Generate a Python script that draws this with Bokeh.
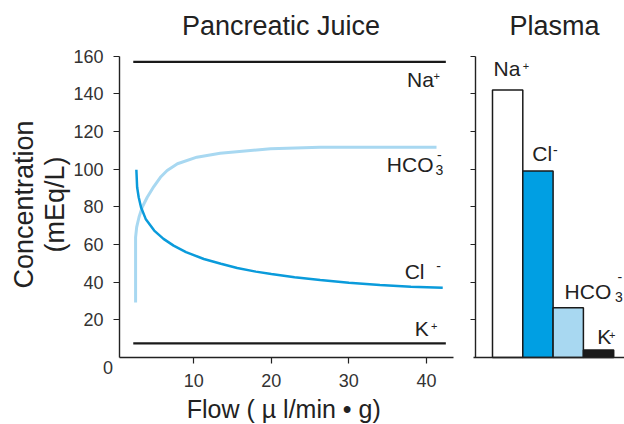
from bokeh.plotting import figure
from bokeh.models import Label, FixedTicker, Range1d, LinearAxis, CustomJSTickFormatter
from bokeh.layouts import row
from bokeh.embed import file_html
from bokeh.resources import INLINE

# ---------------- data ----------------
flow_cl = [2.6, 2.7, 2.9, 3.2, 3.8, 4.9, 6.1, 7.4, 9.0, 11.3, 13.5, 15.6, 18.0, 20.0, 23.0, 26.3, 30.0, 34.0, 38.0, 42.1]
cl_juice = [99.7, 90.4, 85.1, 79.8, 73.6, 67.4, 63.0, 59.4, 56.0, 52.3, 49.8, 47.5, 45.6, 44.3, 42.6, 41.1, 39.7, 38.5, 37.6, 37.0]

flow_hco3 = [2.5, 2.5, 2.5, 2.64, 2.94, 3.35, 4.0, 4.85, 5.7, 6.57, 7.9, 10.4, 13.4, 19.9, 26.3, 33.0, 41.3]
hco3_juice = [29.2, 49.8, 63.8, 69.2, 74.5, 79.8, 85.1, 90.8, 95.7, 99.3, 102.9, 106.4, 108.5, 110.8, 111.7, 111.7, 111.7]

flow_flat = [2.2, 42.5]
na_juice = [157, 157]
k_juice = [7.5, 7.5]

plasma_ions = ["Na+", "Cl-", "HCO3-", "K+"]
plasma_pos = [1, 2, 3, 4]
plasma_values = [142, 99, 26.4, 4]
plasma_fill = ["#ffffff", "#009fe3", "#a8d8f1", "#1a1a1a"]

x_ticks = [10, 20, 30, 40]
y_ticks = [20, 40, 60, 80, 100, 120, 140, 160]

# ---------------- layout constants ----------------
FONT = "Liberation Sans"
TXT = "#222222"
AX = "#222222"
CL_COL = "#0a9bdb"
HC_COL = "#a8d8f1"

Y_VIEW = (-35.58, 189.59)       # whole canvas height
X_VIEW_L = (-14.917, 43.747)    # whole left canvas width
X_VIEW_R = (-0.7211, 4.8564)    # whole right canvas width
X_AXIS_L = (0.425, 43.5)
Y_AXIS = (0, 160)


def lab(fig, x, y, text, size, dx=0, dy=0, align="left", angle=0, color=TXT):
    fig.add_layout(Label(x=x, y=y, text=text, x_offset=dx, y_offset=dy,
                         text_font=FONT, text_font_size=f"{size}px", text_color=color,
                         text_align=align, text_baseline="middle", angle=angle))


def make_axis(fixed, bounds, ticks, tick_out=6, labels=True):
    ax = LinearAxis(fixed_location=fixed, bounds=bounds, ticker=FixedTicker(ticks=ticks))
    ax.axis_line_color = AX
    ax.axis_line_width = 1.4
    ax.major_tick_line_color = AX
    ax.major_tick_line_width = 1.2
    ax.major_tick_out = tick_out
    ax.major_tick_in = 0
    ax.minor_tick_line_color = None
    ax.major_label_text_font = FONT
    ax.major_label_text_font_size = "18px"
    ax.major_label_text_color = "#333333"
    ax.major_label_standoff = 10
    if not labels:
        ax.major_label_standoff = 0
        ax.formatter = CustomJSTickFormatter(code="return ''")
    return ax


def base_fig(width, xr):
    f = figure(width=width, height=424, x_range=Range1d(*xr), y_range=Range1d(*Y_VIEW),
               x_axis_type=None, y_axis_type=None,
               output_backend="svg", toolbar_location=None,
               min_border=0, min_border_left=0, min_border_right=0,
               min_border_top=0, min_border_bottom=0)
    f.outline_line_color = None
    return f


# ---------------- left panel ----------------
p = base_fig(455, X_VIEW_L)
p.add_layout(make_axis(X_AXIS_L[0], Y_AXIS, y_ticks), "left")
p.add_layout(make_axis(0, X_AXIS_L, x_ticks), "below")

p.line(flow_flat, na_juice, line_color="#1a1a1a", line_width=2.4)
p.line(flow_flat, k_juice, line_color="#1a1a1a", line_width=2.4)
p.line(flow_hco3, hco3_juice, line_color=HC_COL, line_width=3)
p.line(flow_cl, cl_juice, line_color=CL_COL, line_width=2.5)

# titles and axis labels
lab(p, 21.25, 160, "Pancreatic Juice", 27, dy=30.7, align="center")
lab(p, 21.6, 0, "Flow ( µ l/min • g)", 25, dy=-51.3, align="center")
lab(p, X_AXIS_L[0], 80, "Concentration", 27, dx=-95.7, dy=2.4, align="center", angle=1.5708)
lab(p, X_AXIS_L[0], 80, "(mEq/L)", 27, dx=-64, dy=2.4, align="center", angle=1.5708)
lab(p, X_AXIS_L[0], 0, "0", 18, dx=-11.5, dy=-10, align="center", color="#333333")

# in-plot labels anchored at the ends of the series
lab(p, flow_flat[-1], na_juice[-1], "Na", 21, dx=-12, dy=-18.1, align="right")
lab(p, flow_flat[-1], na_juice[-1], "+", 11, dx=-12.3, dy=-14.6)
lab(p, flow_hco3[-1], hco3_juice[-1], "HCO", 21, dx=-3, dy=-17, align="right")
lab(p, flow_hco3[-1], hco3_juice[-1], "3", 14, dx=-1, dy=-23.3)
lab(p, flow_hco3[-1], hco3_juice[-1], "-", 14, dx=0.5, dy=-8.3)
lab(p, flow_cl[-1], cl_juice[-1], "Cl", 21, dx=-18.2, dy=16.8, align="right")
lab(p, flow_cl[-1], cl_juice[-1], "-", 14, dx=-6.5, dy=21.6)
lab(p, flow_flat[-1], k_juice[-1], "K", 21, dx=-17, dy=14.4, align="right")
lab(p, flow_flat[-1], k_juice[-1], "+", 11, dx=-14.8, dy=16.9)

# ---------------- right panel ----------------
p2 = base_fig(169, X_VIEW_R)
p2.add_layout(make_axis(-0.061, Y_AXIS, y_ticks, tick_out=5, labels=False), "left")
p2.add_layout(make_axis(0, (-0.127, X_VIEW_R[1]), [], tick_out=0, labels=False), "below")

p2.vbar(x=plasma_pos, top=plasma_values, width=1.0, bottom=0,
        fill_color=plasma_fill, line_color="#1a1a1a", line_width=1.5)

lab(p2, 2.55, 160, "Plasma", 27, dy=30.7, align="center")

lab(p2, plasma_pos[0], plasma_values[0], "Na", 21, dx=-14.1, dy=22.1)
lab(p2, plasma_pos[0], plasma_values[0], "+", 11, dx=15.2, dy=24.6)
lab(p2, plasma_pos[1], plasma_values[1], "Cl", 21, dx=-5.7, dy=17.2)
lab(p2, plasma_pos[1], plasma_values[1], "-", 14, dx=15.1, dy=20.6)
lab(p2, plasma_pos[2], plasma_values[2], "HCO", 21, dx=-3.7, dy=15.8)
lab(p2, plasma_pos[2], plasma_values[2], "3", 14, dx=46.8, dy=10.8)
lab(p2, plasma_pos[2], plasma_values[2], "-", 14, dx=49.3, dy=30.3)
lab(p2, plasma_pos[3], plasma_values[3], "K", 21, dx=-1.3, dy=13)
lab(p2, plasma_pos[3], plasma_values[3], "+", 11, dx=10.5, dy=14.5)

layout = row(p, p2)
open("out.html", "w").write(file_html(layout, INLINE))
